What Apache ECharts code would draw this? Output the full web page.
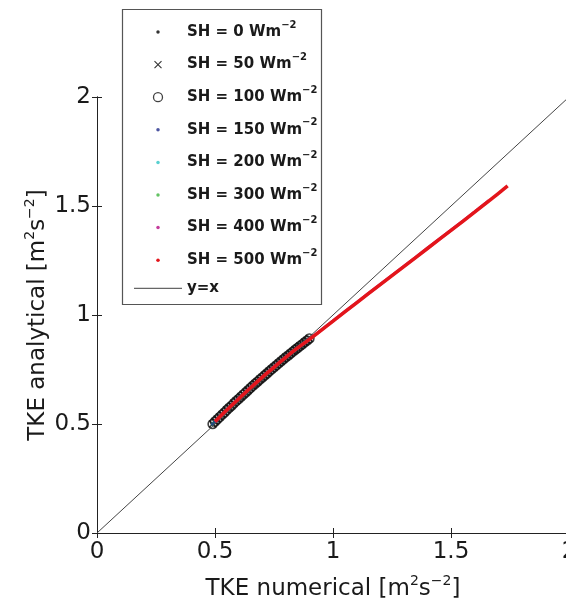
<!DOCTYPE html>
<html>
<head>
<meta charset="utf-8">
<title>TKE analytical vs numerical</title>
<script src="https://cdn.jsdelivr.net/npm/echarts@6/dist/echarts.min.js"></script>
<style>
  html, body { margin: 0; padding: 0; background: #fff; }
  #chart { width: 566px; height: 606px; }
</style>
</head>
<body>
<div id="chart"></div>
<script>
// axis ticks (same on both axes)
var tickStep = 0.5
var tickLabels = ['0', '0.5', '1', '1.5', '2']

// SH = 0 ... 300 W/m2 all lie on the short dark band
var bandNum = [0.49, 0.50, 0.51, 0.52, 0.53, 0.54, 0.55, 0.56, 0.57, 0.58, 0.59,
  0.60, 0.61, 0.62, 0.63, 0.64, 0.65, 0.66, 0.67, 0.68, 0.69,
  0.70, 0.71, 0.72, 0.73, 0.74, 0.75, 0.76, 0.77, 0.78, 0.79,
  0.80, 0.81, 0.82, 0.83, 0.84, 0.85, 0.86, 0.87, 0.88, 0.89, 0.90]
var bandAna = [0.500, 0.511, 0.522, 0.532, 0.543, 0.553, 0.564, 0.574, 0.584, 0.595, 0.605,
  0.615, 0.625, 0.635, 0.645, 0.655, 0.665, 0.675, 0.685, 0.694, 0.704,
  0.713, 0.723, 0.732, 0.742, 0.751, 0.760, 0.769, 0.779, 0.788, 0.797,
  0.806, 0.814, 0.823, 0.832, 0.841, 0.849, 0.858, 0.866, 0.875, 0.883, 0.892]

// SH = 400 W/m2 (mostly hidden under the red one)
var sh400Num = [0.50, 0.60, 0.70, 0.80, 0.90, 1.00, 1.10, 1.20, 1.30, 1.40, 1.50, 1.60, 1.66]
var sh400Ana = [0.511, 0.616, 0.715, 0.807, 0.889, 0.973, 1.057, 1.140, 1.223, 1.306, 1.389, 1.473, 1.524]

// SH = 500 W/m2 (red)
var sh500Num = [0.50, 0.55, 0.60, 0.65, 0.70, 0.75, 0.80, 0.85, 0.90,
  1.00, 1.10, 1.20, 1.30, 1.40, 1.50, 1.60, 1.70, 1.74]
var sh500Ana = [0.511, 0.564, 0.615, 0.665, 0.714, 0.760, 0.806, 0.849, 0.888,
  0.972, 1.056, 1.139, 1.222, 1.305, 1.388, 1.472, 1.557, 1.592]

// 1:1 reference line
var diagNum = [0, 2]
var diagAna = [0, 2]

var FONT = 'DejaVu Sans'
var INK = '#1a1a1a'

function pairs(xs, ys) {
  return xs.map(function (x, i) { return [x, ys[i]] })
}

function tickFormatter(v) {
  return tickLabels[Math.round(v / tickStep)]
}

// legend rows are laid out one by one so every row can have its own icon size
// (legend 'left' lines up the drawn icon, so shift it to keep icons centred at x=158)
var iconCentre = 158
var rowCentre = 32
var rowStep = 32.6
var supRich = {
  a: { fontFamily: FONT, fontSize: 15, fontWeight: 'bold', color: INK, lineHeight: 24 },
  s: { fontFamily: FONT, fontSize: 10, fontWeight: 'bold', color: INK, lineHeight: 10, verticalAlign: 'top' },
}
function legendRow(i, item, iconSize, borderWidth, isLine) {
  return {
    left: isLine ? iconCentre - 24 : iconCentre - iconSize / 2 - borderWidth / 2,
    top: rowCentre + i * rowStep - 12,
    padding: 0,
    itemWidth: 48,
    itemHeight: iconSize,
    selectedMode: false,
    data: [item],
    itemStyle: { borderWidth: borderWidth },
    formatter: function (name) {
      if (name === 'y=x') return '{a|y=x}'
      return '{a|' + name + ' Wm}{s|−2}'
    },
    textStyle: { rich: supRich },
  }
}

function dots(name, color) {
  return {
    name: name,
    type: 'scatter',
    symbol: 'circle',
    symbolSize: 3.5,
    itemStyle: { color: color },
    data: pairs(bandNum, bandAna),
  }
}

var chart = echarts.init(document.getElementById('chart'))

var axisName = function (word) {
  return '{a|TKE ' + word + ' [m}{s|2}{a|s}{s|−2}{a|]}'
}
var axisNameStyle = {
  rich: {
    a: { fontFamily: FONT, fontSize: 23, color: INK, lineHeight: 30 },
    s: { fontFamily: FONT, fontSize: 14, color: INK, lineHeight: 14, verticalAlign: 'top' },
  },
}
var axisLabelStyle = { fontFamily: FONT, fontSize: 23, color: INK, formatter: tickFormatter }

chart.setOption({
  animation: false,
  backgroundColor: '#fff',
  grid: { left: 97, right: -3, top: 97, bottom: 73, containLabel: false, outerBoundsMode: 'none' },
  xAxis: [
    {
      type: 'value',
      min: 0,
      max: 2,
      interval: tickStep,
      position: 'bottom',
      name: axisName('numerical'),
      nameLocation: 'middle',
      nameGap: 41,
      nameMoveOverlap: false,
      nameTextStyle: axisNameStyle,
      axisLine: { lineStyle: { color: '#222', width: 1 } },
      axisTick: { inside: true, length: 5, lineStyle: { color: '#222' } },
      axisLabel: Object.assign({ margin: 8 }, axisLabelStyle),
      splitLine: { show: false },
    },
    {
      // top edge of the box
      type: 'value',
      min: 0,
      max: 2,
      interval: tickStep,
      position: 'top',
      axisLine: { lineStyle: { color: '#222', width: 1 } },
      axisTick: { inside: true, length: 5, lineStyle: { color: '#222' } },
      axisLabel: { show: false },
      splitLine: { show: false },
    },
  ],
  yAxis: [
    {
      type: 'value',
      min: 0,
      max: 2,
      interval: tickStep,
      position: 'left',
      name: axisName('analytical'),
      nameLocation: 'middle',
      nameGap: 44,
      nameMoveOverlap: false,
      nameTextStyle: axisNameStyle,
      axisLine: { show: true, lineStyle: { color: '#222', width: 1 } },
      axisTick: { show: true, inside: true, length: 5, lineStyle: { color: '#222' } },
      axisLabel: Object.assign({ margin: 6 }, axisLabelStyle),
      splitLine: { show: false },
    },
    {
      type: 'value',
      min: 0,
      max: 2,
      interval: tickStep,
      position: 'right',
      axisLine: { show: true, lineStyle: { color: '#222', width: 1 } },
      axisTick: { show: true, inside: true, length: 5, lineStyle: { color: '#222' } },
      axisLabel: { show: false },
      splitLine: { show: false },
    },
  ],
  legend: [
    legendRow(0, { name: 'SH = 0' }, 3.5, 0),
    legendRow(1, { name: 'SH = 50' }, 7, 1.1),
    legendRow(2, { name: 'SH = 100' }, 9, 1.3),
    legendRow(3, { name: 'SH = 150' }, 3.5, 0),
    legendRow(4, { name: 'SH = 200' }, 3.5, 0),
    legendRow(5, { name: 'SH = 300' }, 3.5, 0),
    legendRow(6, { name: 'SH = 400', icon: 'circle', itemStyle: { color: '#c43c9c' } }, 3.5, 0),
    legendRow(7, { name: 'SH = 500', icon: 'circle', itemStyle: { color: '#e3151b' } }, 3.5, 0),
    legendRow(8, { name: 'y=x', icon: 'rect', itemStyle: { color: '#666' } }, 1.2, 0, true),
  ],
  graphic: [
    {
      // legend frame, sits over the top edge of the axes box
      type: 'rect',
      z: 3,
      shape: { x: 122.5, y: 9.5, width: 199, height: 295 },
      style: { fill: '#fff', stroke: '#555', lineWidth: 1.2 },
    },
  ],
  series: [
    {
      name: 'y=x',
      type: 'line',
      symbol: 'none',
      lineStyle: { color: '#444', width: 1 },
      itemStyle: { color: '#444' },
      data: pairs(diagNum, diagAna),
    },
    dots('SH = 0', '#000'),
    {
      name: 'SH = 50',
      type: 'scatter',
      symbol: 'path://M0,0L10,10M10,0L0,10',
      symbolSize: 7,
      itemStyle: { color: 'rgba(0,0,0,0)', borderColor: '#000', borderWidth: 1.2 },
      data: pairs(bandNum, bandAna),
    },
    {
      name: 'SH = 100',
      type: 'scatter',
      symbol: 'circle',
      symbolSize: 9,
      itemStyle: { color: 'rgba(0,0,0,0)', borderColor: '#111', borderWidth: 1.6 },
      data: pairs(bandNum, bandAna),
    },
    dots('SH = 200', '#2ec4c4'),
    dots('SH = 300', '#3cb43c'),
    dots('SH = 150', '#1f2a8a'),
    {
      name: 'SH = 400',
      type: 'line',
      symbol: 'none',
      smooth: true,
      lineStyle: { color: '#c43c9c', width: 3 },
      itemStyle: { color: '#c43c9c' },
      data: pairs(sh400Num, sh400Ana),
    },
    {
      name: 'SH = 500',
      type: 'line',
      symbol: 'none',
      smooth: true,
      lineStyle: { color: '#e3151b', width: 3.5 },
      itemStyle: { color: '#e3151b' },
      data: pairs(sh500Num, sh500Ana),
    },
  ],
})
</script>
</body>
</html>
